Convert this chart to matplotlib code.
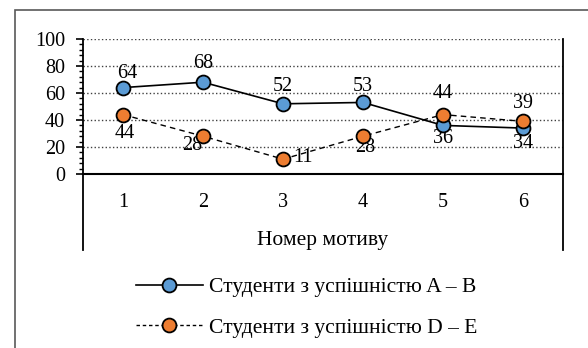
import matplotlib
matplotlib.use("Agg")
import matplotlib.pyplot as plt
from matplotlib.lines import Line2D
from matplotlib.patches import Rectangle
from matplotlib.ticker import MultipleLocator

plt.rcParams['font.family'] = ['Liberation Serif', 'DejaVu Serif']

motives = [1, 2, 3, 4, 5, 6]
group_ab = [64, 68, 52, 53, 36, 34]
group_de = [44, 28, 11, 28, 44, 39]
name_ab = "Студенти з успішністю A – B"
name_de = "Студенти з успішністю D – E"
x_title = "Номер мотиву"

# label offsets in pixels, positive = up (hand-placed like in the source)
off_ab = [(4, 14), (0, 19), (0, 17), (0, 16), (0, -13), (0, -15)]
off_de = [(2, -19), (-11, -9), (20, 2), (2, -11), (0, 21), (0, 18)]

blue = "#5B9BD5"
orange = "#ED7D31"
fs = 14.5
fs_txt = 15.5

fig = plt.figure(figsize=(5.88, 3.48), dpi=100)
ax = fig.add_axes([83 / 588, 0.5, 480 / 588, 1 - 39 / 348 - 0.5])

# outer frame of the chart area (right and bottom are cut off)
fig.patches.append(Rectangle((15 / 588, -0.2), 1.2, 1.2 - 10 / 348,
                             transform=fig.transFigure, fill=False,
                             edgecolor="#595959", linewidth=1.2))

ax.plot(motives, group_ab, color="black", linewidth=1.2, linestyle="-",
        marker="o", markersize=10, markerfacecolor=blue,
        markeredgecolor="black", markeredgewidth=1.3, zorder=4)
ax.plot(motives, group_de, color="black", linewidth=1.0, linestyle=(0, (4, 3)),
        marker="o", markersize=10, markerfacecolor=orange,
        markeredgecolor="black", markeredgewidth=1.3, zorder=5)

for x, y, (dx, dy) in zip(motives, group_ab, off_ab):
    ax.annotate(str(y), (x, y), xytext=(dx, dy), textcoords="offset pixels",
                ha="center", va="center", fontsize=fs)
for x, y, (dx, dy) in zip(motives, group_de, off_de):
    ax.annotate(str(y), (x, y), xytext=(dx, dy), textcoords="offset pixels",
                ha="center", va="center", fontsize=fs)

ax.set_xlim(0.5, 6.5)
ax.set_ylim(0, 100)
ax.yaxis.set_major_locator(MultipleLocator(20))
ax.yaxis.set_minor_locator(MultipleLocator(4))
ax.tick_params(axis="y", which="major", length=5, width=1.2, labelsize=fs, pad=8)
ax.tick_params(axis="y", which="minor", length=3, width=1.0)
ax.set_xticks(motives)
ax.set_xticklabels([str(m) for m in motives])
ax.tick_params(axis="x", length=0, labelsize=fs, pad=14)

ax.grid(axis="y", linestyle=":", color="#404040", linewidth=1.0)
ax.set_axisbelow(True)

for s in ["top", "left", "right"]:
    ax.spines[s].set_visible(False)
ax.spines["bottom"].set_linewidth(1.5)

# vertical lines of the category box
y_low = (174 - 250) / 135
for xa in (0, 1):
    ax.add_line(Line2D([xa, xa], [1, y_low], transform=ax.transAxes,
                       color="black", linewidth=1.3, clip_on=False))

ax.set_xlabel(x_title, fontsize=fs_txt, va="center")
ax.xaxis.set_label_coords(0.5, (174 - 241) / 135)

h1 = Line2D([], [], color="black", linewidth=1.2, marker="o", markersize=10,
            markerfacecolor=blue, markeredgecolor="black", markeredgewidth=1.3)
h2 = Line2D([], [], color="black", linewidth=1.0, linestyle=(0, (2.5, 2)),
            marker="o", markersize=10, markerfacecolor=orange,
            markeredgecolor="black", markeredgewidth=1.3)
fig.legend([h1, h2], [name_ab, name_de], loc="upper left",
           bbox_to_anchor=(136 / 588, 1 - 277 / 348), frameon=False,
           fontsize=fs_txt, handlelength=3.1, handletextpad=0.3,
           labelspacing=0.95, borderpad=0, borderaxespad=0)

fig.savefig("out.png", dpi=100)
